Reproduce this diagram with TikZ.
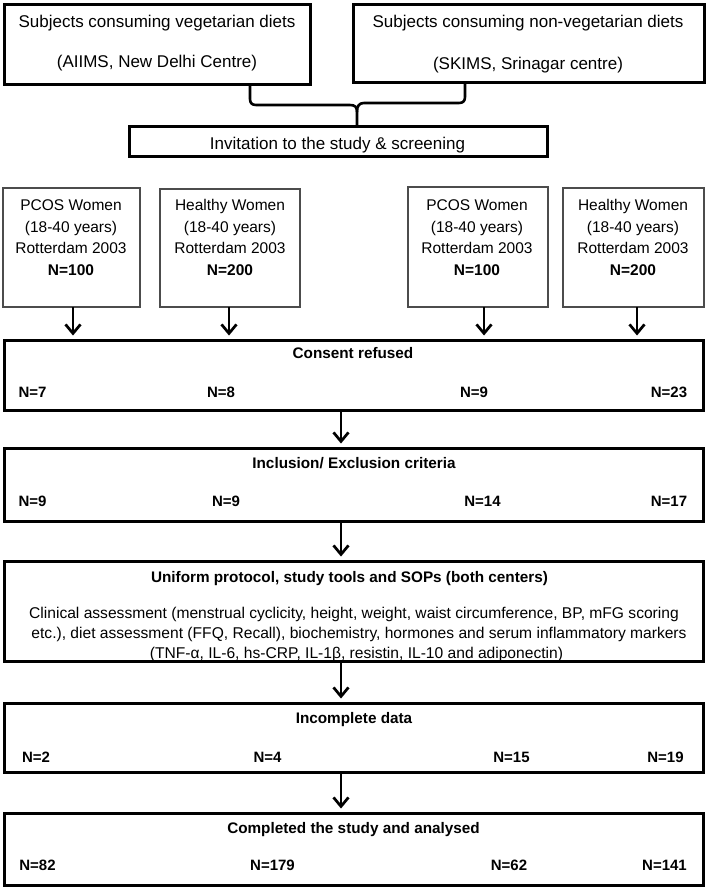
\documentclass[tikz,border=0pt]{standalone}
\usepackage{fontspec}
\setmainfont{Liberation Sans}
\usetikzlibrary{arrows.meta}
\begin{document}
\begin{tikzpicture}[x=1pt,y=-1pt,
  bigbox/.style={draw, line width=3pt, minimum width=699pt, inner sep=0pt, outer sep=0pt},
  topbox/.style={draw, line width=3pt, inner sep=0pt, outer sep=0pt},
  subbox/.style={draw=black!70, line width=1.3pt, inner sep=0pt, outer sep=0pt},
  toptxt/.style={anchor=base, inner sep=0pt, font=\fontsize{17}{20}\selectfont},
  rowtxt/.style={anchor=base, inner sep=0pt, font=\fontsize{15.5}{19}\selectfont},
  title/.style={anchor=base, inner sep=0pt, font=\fontsize{15.3}{18}\selectfont\bfseries},
  ntxt/.style={anchor=base, inner sep=0pt, font=\fontsize{15}{18}\selectfont\bfseries},
  body/.style={anchor=base, inner sep=0pt, font=\fontsize{15.6}{19}\selectfont},
  link/.style={line width=2.6pt},
  arr/.style={line width=2.7pt, -{Straight Barb[length=9pt,width=15pt]}, shorten >=5pt}
]
\useasboundingbox (0,0) rectangle (708,889);

% top boxes
\node[topbox, minimum width=306pt, minimum height=80pt] (lv) at (157.5,44.5) {};
\node[topbox, minimum width=351pt, minimum height=78pt] (rv) at (529,43.5) {};
\node[toptxt] (lv1) at (157,27) {Subjects consuming vegetarian diets};
\node[toptxt] (lv2) at (157,67) {(AIIMS, New Delhi Centre)};
\node[toptxt] (rv1) at (528,27) {Subjects consuming non-vegetarian diets};
\node[toptxt] (rv2) at (528,69) {(SKIMS, Srinagar centre)};

% invitation
\node[topbox, minimum width=418pt, minimum height=30pt] (inv) at (338.5,141.5) {};
\node[toptxt] (invt) at (337.5,149) {Invitation to the study \& screening};

% brace connector
\coordinate (bl) at (250,0);
\coordinate (br) at (465,0);
\coordinate (tip) at (357,0);
\draw[link] (lv.south -| bl) -- (250,99) .. controls (250,103) and (252,105) .. (256,105)
  -- (350,105) .. controls (355,105) and (357,107) .. (357,112) -- (inv.north -| tip);
\draw[link] (rv.south -| br) -- (465,97) .. controls (465,101) and (463,103) .. (459,103)
  -- (364,103) .. controls (359,103) and (357,106) .. (357,112);

% second row boxes
\node[subbox, minimum width=137pt, minimum height=119pt] (b1) at (71.5,247.5) {};
\node[subbox, minimum width=140pt, minimum height=118pt] (b2) at (230,248) {};
\node[subbox, minimum width=140pt, minimum height=120pt] (b3) at (478,247) {};
\node[subbox, minimum width=141pt, minimum height=119pt] (b4) at (633.5,247.5) {};
\foreach \t [count=\i] in {PCOS Women,(18-40 years),Rotterdam 2003,\textbf{N=100}}
  \node[rowtxt] (b1t\i) at (71, {210.5+21.67*(\i-1)}) {\t};
\foreach \t [count=\i] in {Healthy Women,(18-40 years),Rotterdam 2003,\textbf{N=200}}
  \node[rowtxt] (b2t\i) at (230, {210.5+21.67*(\i-1)}) {\t};
\foreach \t [count=\i] in {PCOS Women,(18-40 years),Rotterdam 2003,\textbf{N=100}}
  \node[rowtxt] (b3t\i) at (477, {210.5+21.67*(\i-1)}) {\t};
\foreach \t [count=\i] in {Healthy Women,(18-40 years),Rotterdam 2003,\textbf{N=200}}
  \node[rowtxt] (b4t\i) at (633, {210.5+21.67*(\i-1)}) {\t};

% big boxes
\node[bigbox, minimum height=70pt] (cons) at (354,375.5) {};
\node[bigbox, minimum height=73pt] (incl) at (354,485) {};
\node[bigbox, minimum height=100pt] (unif) at (354,611.5) {};
\node[bigbox, minimum height=69pt] (inc) at (354,738) {};
\node[bigbox, minimum height=72pt] (comp) at (354,849.5) {};

% arrows row 2 -> consent
\coordinate (a1) at (73,0);
\coordinate (a2) at (229,0);
\coordinate (a3) at (484,0);
\coordinate (a4) at (637,0);
\draw[arr] (b1.south -| a1) -- (cons.north -| a1);
\draw[arr] (b2.south -| a2) -- (cons.north -| a2);
\draw[arr] (b3.south -| a3) -- (cons.north -| a3);
\draw[arr] (b4.south -| a4) -- (cons.north -| a4);

% central arrows
\coordinate (ax) at (341,0);
\draw[arr] (cons.south -| ax) -- (incl.north -| ax);
\draw[arr] (incl.south -| ax) -- (unif.north -| ax);
\draw[arr] (unif.south -| ax) -- (inc.north -| ax);
\draw[arr] (inc.south -| ax) -- (comp.north -| ax);

% consent
\node[title] (ct) at (353,358.5) {Consent refused};
\node[ntxt] (c1) at (32.5,397.4) {N=7};
\node[ntxt] (c2) at (221,397.4) {N=8};
\node[ntxt] (c3) at (474,397.4) {N=9};
\node[ntxt] (c4) at (669,397.4) {N=23};

% inclusion
\node[title] (it) at (354,468.5) {Inclusion/ Exclusion criteria};
\node[ntxt] (i1) at (32.5,506.4) {N=9};
\node[ntxt] (i2) at (226,506.4) {N=9};
\node[ntxt] (i3) at (482.5,506.4) {N=14};
\node[ntxt] (i4) at (669,506.4) {N=17};

% uniform
\node[title] (ut) at (349.5,582.5) {Uniform protocol, study tools and SOPs (both centers)};
\node[body] (u1) at (354,618) {Clinical assessment (menstrual cyclicity, height, weight, waist circumference, BP, mFG scoring};
\node[body] (u2) at (359,638) {etc.), diet assessment (FFQ, Recall), biochemistry, hormones and serum inflammatory markers};
\node[body] (u3) at (356.5,658) {(TNF-α, IL-6, hs-CRP, IL-1β, resistin, IL-10 and adiponectin)};

% incomplete
\node[title] (dt) at (354,723.5) {Incomplete data};
\node[ntxt] (d1) at (36,762.4) {N=2};
\node[ntxt] (d2) at (267.5,762.4) {N=4};
\node[ntxt] (d3) at (511.5,762.4) {N=15};
\node[ntxt] (d4) at (665.5,762.4) {N=19};

% completed
\node[title] (pt) at (353.5,833.5) {Completed the study and analysed};
\node[ntxt] (p1) at (37.5,870.4) {N=82};
\node[ntxt] (p2) at (272.5,870.4) {N=179};
\node[ntxt] (p3) at (509,870.4) {N=62};
\node[ntxt] (p4) at (664.5,870.4) {N=141};
\end{tikzpicture}
\end{document}
